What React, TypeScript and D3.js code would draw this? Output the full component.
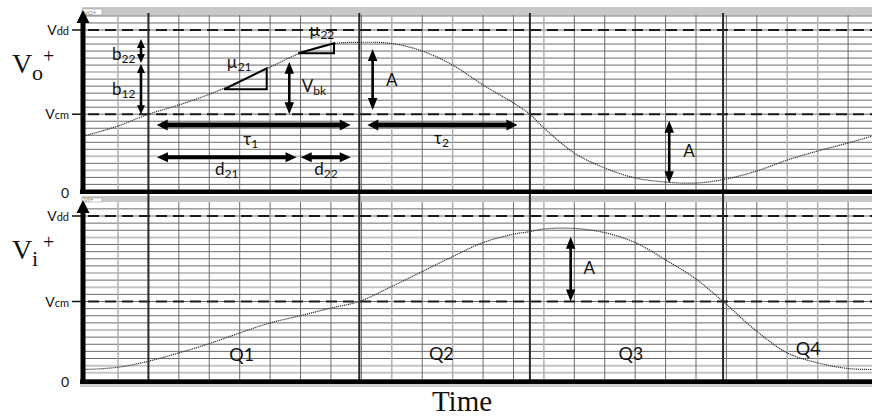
import * as d3 from "d3";
import { useEffect, useRef } from "react";

const VDD = 1.8;
const VCM = 0.87;
const ROWS = 12; // grid rows between Vcm and Vdd

// time in grid divisions, voltage in volts
const voTime = [-0.15, 1, 2, 3, 4, 5, 6, 7, 8, 8.93, 10, 11, 12, 13, 14, 14.54, 15, 16, 17, 18, 19, 20, 21, 22, 23, 24, 25, 25.9];
const voValue = [0.629, 0.74, 0.87, 0.972, 1.09, 1.233, 1.39, 1.546, 1.645, 1.664, 1.651, 1.568, 1.413, 1.193, 0.994, 0.87, 0.718, 0.442, 0.276, 0.166, 0.121, 0.11, 0.155, 0.243, 0.364, 0.464, 0.552, 0.64];

const viTime = [-0.1, 1, 2, 3, 4, 5, 6, 7, 8, 8.93, 10, 11, 12, 13, 14, 14.54, 15, 16, 17, 18, 19, 20, 20.89, 22, 23, 24, 25, 25.9];
const viValue = [0.13, 0.155, 0.22, 0.311, 0.412, 0.528, 0.637, 0.716, 0.799, 0.87, 1.034, 1.196, 1.359, 1.511, 1.602, 1.63, 1.659, 1.665, 1.619, 1.511, 1.323, 1.114, 0.87, 0.546, 0.311, 0.203, 0.141, 0.13];

// quadrant boundaries
const quarterTimes = [2, 8.93, 14.54, 20.89];

const gridTimes = d3.range(1, 26);
const lightTimes = [1, 10, 12, 15, 23, 24];
const topLightRows = [6, 18, 20];
const bottomLightRows = [3, 8, 10, 16, 21, 22];

const axisMain = ["V", "V", "0"];
const axisSub = ["dd", "cm", ""];
const axisValue = [VDD, VCM, 0];

// annotations, in the same time / volt units
const topVArrows = [
	{ t: 1.755, v0: 1.7, v1: 1.435, small: true },
	{ t: 1.755, v0: 1.424, v1: VCM, small: true },
	{ t: 6.63, v0: 1.45, v1: VCM, small: false },
	{ t: 9.37, v0: 1.59, v1: 0.917, small: false },
	{ t: 19.12, v0: 0.798, v1: 0.107, small: false }
];
const bottomVArrows = [{ t: 15.88, v0: 1.575, v1: VCM, small: false }];

const topHArrows = [
	{ v: 0.751, t0: 2.27, t1: 8.65, w: 5 },
	{ v: 0.751, t0: 9.195, t1: 14.13, w: 5 },
	{ v: 0.394, t0: 2.28, t1: 6.87, w: 4 },
	{ v: 0.394, t0: 7.005, t1: 8.65, w: 4 }
];

const slopes = [
	{ t0: 4.483, v0: 1.145, t1: 5.888, v1: 1.377 },
	{ t0: 6.927, v0: 1.543, t1: 8.1, v1: 1.653 }
];

const topLabels = [
	{ t: 0.8, v: 1.469, main: "b", sub: "22" },
	{ t: 0.8, v: 1.082, main: "b", sub: "12" },
	{ t: 4.57, v: 1.38, main: "\u00b5", sub: "21" },
	{ t: 7.29, v: 1.734, main: "\u00b5", sub: "22" },
	{ t: 7.04, v: 1.119, main: "V", sub: "bk" },
	{ t: 9.81, v: 1.185, main: "A", sub: "" },
	{ t: 5.12, v: 0.53, main: "\u03c4", sub: "1" },
	{ t: 11.39, v: 0.538, main: "\u03c4", sub: "2" },
	{ t: 4.19, v: 0.199, main: "d", sub: "21" },
	{ t: 7.45, v: 0.199, main: "d", sub: "22" },
	{ t: 19.58, v: 0.401, main: "A", sub: "" }
];
const bottomLabels = [{ t: 16.3, v: 1.168, main: "A", sub: "" }];

const quarterNames = ["Q1", "Q2", "Q3", "Q4"];
const quarterLabelT = [4.66, 11.22, 17.45, 23.28];
const quarterLabelV = [0.22, 0.231, 0.231, 0.285];

const SANS = "Lato, 'Open Sans', 'DejaVu Sans', sans-serif";
const SERIF = "'Liberation Serif', 'DejaVu Serif', serif";

const arrowPath = (x1, y1, x2, y2, w, hl, hw) => {
	const len = Math.hypot(x2 - x1, y2 - y1);
	const ux = (x2 - x1) / len;
	const uy = (y2 - y1) / len;
	const pt = (a, b) => [x1 + ux * a - uy * b, y1 + uy * a + ux * b];
	const pts = [
		pt(0, 0), pt(hl, hw / 2), pt(hl, w / 2), pt(len - hl, w / 2), pt(len - hl, hw / 2),
		pt(len, 0), pt(len - hl, -hw / 2), pt(len - hl, -w / 2), pt(hl, -w / 2), pt(hl, -hw / 2)
	];
	return "M" + pts.map(p => p.join(",")).join("L") + "Z";
};

const addLabel = (g, px, py, main, sub, size, subSize) => {
	const text = g
		.append("text")
		.attr("x", px)
		.attr("y", py)
		.attr("fill", "#111")
		.style("font-family", SANS)
		.style("font-size", `${size}px`);
	text.append("tspan").text(main);
	if (sub) {
		text
			.append("tspan")
			.attr("dy", 3)
			.style("font-size", `${subSize}px`)
			.text(sub);
	}
	return text;
};

const createGraph = (el: SVGSVGElement) => {
	const svg = d3.select(el);
	svg.selectAll("*").remove();

	const x = d3.scaleLinear().domain([0, 26]).range([87.6, 87.6 + 26 * 30.42]);
	const step = (VDD - VCM) / ROWS;

	const panels = [
		{
			y: d3.scaleLinear().domain([0, VDD]).range([193, 30]),
			gy0: 15, gy1: 190, axisY: 191.8, stripY: 7, stripH: 8, tip: 10, name: "VO+",
			light: topLightRows, time: voTime, value: voValue, sub: "o"
		},
		{
			y: d3.scaleLinear().domain([0, VDD]).range([381.5, 216]),
			gy0: 202, gy1: 380, axisY: 381.7, stripY: 196, stripH: 6, tip: 200, name: "VI+",
			light: bottomLightRows, time: viTime, value: viValue, sub: "i"
		}
	];

	panels.forEach(p => {
		const g = svg.append("g");

		// gray title strip
		g.append("rect")
			.attr("x", 82).attr("y", p.stripY).attr("width", 790).attr("height", p.stripH)
			.attr("fill", "#c8c8c8");
		g.append("rect")
			.attr("x", 82).attr("y", p.stripY + 2).attr("width", 20).attr("height", p.stripH - 2)
			.attr("fill", "#fff").attr("stroke", "#999").attr("stroke-width", 0.6);
		g.append("text")
			.attr("x", 84).attr("y", p.stripY + p.stripH - 0.5)
			.attr("fill", "#777")
			.style("font-family", SANS).style("font-size", "6px")
			.text(p.name);

		// horizontal grid
		d3.range(-2, 24).forEach(k => {
			const yy = p.y(VDD - k * step);
			if (yy < p.gy0 || yy > p.gy1) return;
			const light = p.light.includes(k);
			g.append("line")
				.attr("x1", 83).attr("x2", 872).attr("y1", yy).attr("y2", yy)
				.attr("stroke", light ? "#c4c4c4" : "#6a6a6a")
				.attr("stroke-width", light ? 2 : 1);
		});

		// vertical grid
		g.selectAll(".vgrid")
			.data(gridTimes)
			.enter()
			.append("line")
			.attr("x1", d => x(d)).attr("x2", d => x(d))
			.attr("y1", p.gy0).attr("y2", p.gy1)
			.attr("stroke", d => (lightTimes.includes(d) ? "#b0b0b0" : "#6a6a6a"))
			.attr("stroke-width", d => (lightTimes.includes(d) ? 1.5 : 1));

		// Vdd / Vcm dashed levels
		[VDD, VCM].forEach(v => {
			g.append("line")
				.attr("x1", 88).attr("x2", 872).attr("y1", p.y(v)).attr("y2", p.y(v))
				.attr("stroke", "#1a1a1a").attr("stroke-width", 2)
				.attr("stroke-dasharray", "11 6");
		});

		// axis labels and ticks
		axisValue.forEach((v, i) => {
			const yy = p.y(v);
			if (v > 0) {
				g.append("line")
					.attr("x1", 72).attr("x2", 82).attr("y1", yy).attr("y2", yy)
					.attr("stroke", "#111").attr("stroke-width", 1.5);
			}
			const t = g.append("text")
				.attr("x", 69).attr("y", yy + 5)
				.attr("text-anchor", "end").attr("fill", "#111")
				.style("font-family", SANS).style("font-size", "14px");
			t.append("tspan").text(axisMain[i]);
			if (axisSub[i]) t.append("tspan").style("font-size", "11px").text(axisSub[i]);
		});

		// big serif panel name
		const top = p.y(VDD);
		g.append("text")
			.attr("x", 12).attr("y", top + 43)
			.style("font-family", SERIF).style("font-size", "28px").attr("fill", "#111")
			.text("V");
		g.append("text")
			.attr("x", 32).attr("y", top + 50)
			.style("font-family", SERIF).style("font-size", "22px").attr("fill", "#111")
			.text(p.sub);
		g.append("text")
			.attr("x", 43).attr("y", top + 33)
			.style("font-family", SERIF).style("font-size", "20px").attr("fill", "#111")
			.text("+");

		// signal
		const line = d3
			.line<number>()
			.x((d, i) => Math.max(84, x(p.time[i])))
			.y(d => p.y(d))
			.curve(d3.curveCatmullRom);
		g.append("path")
			.attr("d", line(p.value))
			.attr("fill", "none")
			.attr("stroke", "#333")
			.attr("stroke-width", 1.2)
			.attr("stroke-dasharray", "1.2 0.8");
	});

	// quadrant boundaries spanning both panels
	svg.selectAll(".quarter")
		.data(quarterTimes)
		.enter()
		.append("line")
		.attr("x1", d => x(d)).attr("x2", d => x(d))
		.attr("y1", 13).attr("y2", 380)
		.attr("stroke", "#2a2a2a")
		.attr("stroke-width", 2);

	// axes
	panels.forEach(p => {
		svg.append("line")
			.attr("x1", 80).attr("x2", 872).attr("y1", p.axisY).attr("y2", p.axisY)
			.attr("stroke", "#000").attr("stroke-width", 4.5);
		svg.append("line")
			.attr("x1", 83).attr("x2", 83).attr("y1", p.tip + 10).attr("y2", p.axisY + 2)
			.attr("stroke", "#000").attr("stroke-width", 5);
		svg.append("path")
			.attr("d", `M83,${p.tip}L76.5,${p.tip + 13}L89.5,${p.tip + 13}Z`)
			.attr("fill", "#000");
	});
	svg.append("rect")
		.attr("x", 80).attr("y", 384).attr("width", 792).attr("height", 3)
		.attr("fill", "#cfcfcf");

	const yTop = panels[0].y;
	const yBot = panels[1].y;

	// vertical double arrows
	const vArrow = (yS, a) => {
		svg.append("path")
			.attr("d", arrowPath(x(a.t), yS(a.v0), x(a.t), yS(a.v1), 2.6, a.small ? 9 : 12, a.small ? 8 : 9.5))
			.attr("fill", "#000");
	};
	topVArrows.forEach(a => vArrow(yTop, a));
	bottomVArrows.forEach(a => vArrow(yBot, a));

	topHArrows.forEach(a => {
		svg.append("path")
			.attr("d", arrowPath(x(a.t0), yTop(a.v), x(a.t1), yTop(a.v), a.w, 11, a.w + 6))
			.attr("fill", "#000");
	});

	// slope triangles
	slopes.forEach(s => {
		svg.append("path")
			.attr("d", `M${x(s.t0)},${yTop(s.v0)}L${x(s.t1)},${yTop(s.v1)}L${x(s.t1)},${yTop(s.v0)}Z`)
			.attr("fill", "none")
			.attr("stroke", "#000")
			.attr("stroke-width", 2);
	});

	topLabels.forEach(l => addLabel(svg, x(l.t), yTop(l.v), l.main, l.sub, 17, 12));
	bottomLabels.forEach(l => addLabel(svg, x(l.t), yBot(l.v), l.main, l.sub, 17, 12));
	quarterNames.forEach((q, i) => addLabel(svg, x(quarterLabelT[i]), yBot(quarterLabelV[i]), q, "", 18, 12));

	svg.append("text")
		.attr("x", 462).attr("y", 411)
		.attr("text-anchor", "middle")
		.style("font-family", SERIF).style("font-size", "29px").attr("fill", "#111")
		.text("Time");
};

export default function App() {
	const ref = useRef<SVGSVGElement>(null);

	useEffect(() => {
		if (ref.current) createGraph(ref.current);
	}, []);

	return (
		<svg
			ref={ref}
			width={872}
			height={416}
			style={{ position: "absolute", left: 0, top: 0, background: "#fff" }}
		/>
	);
}
